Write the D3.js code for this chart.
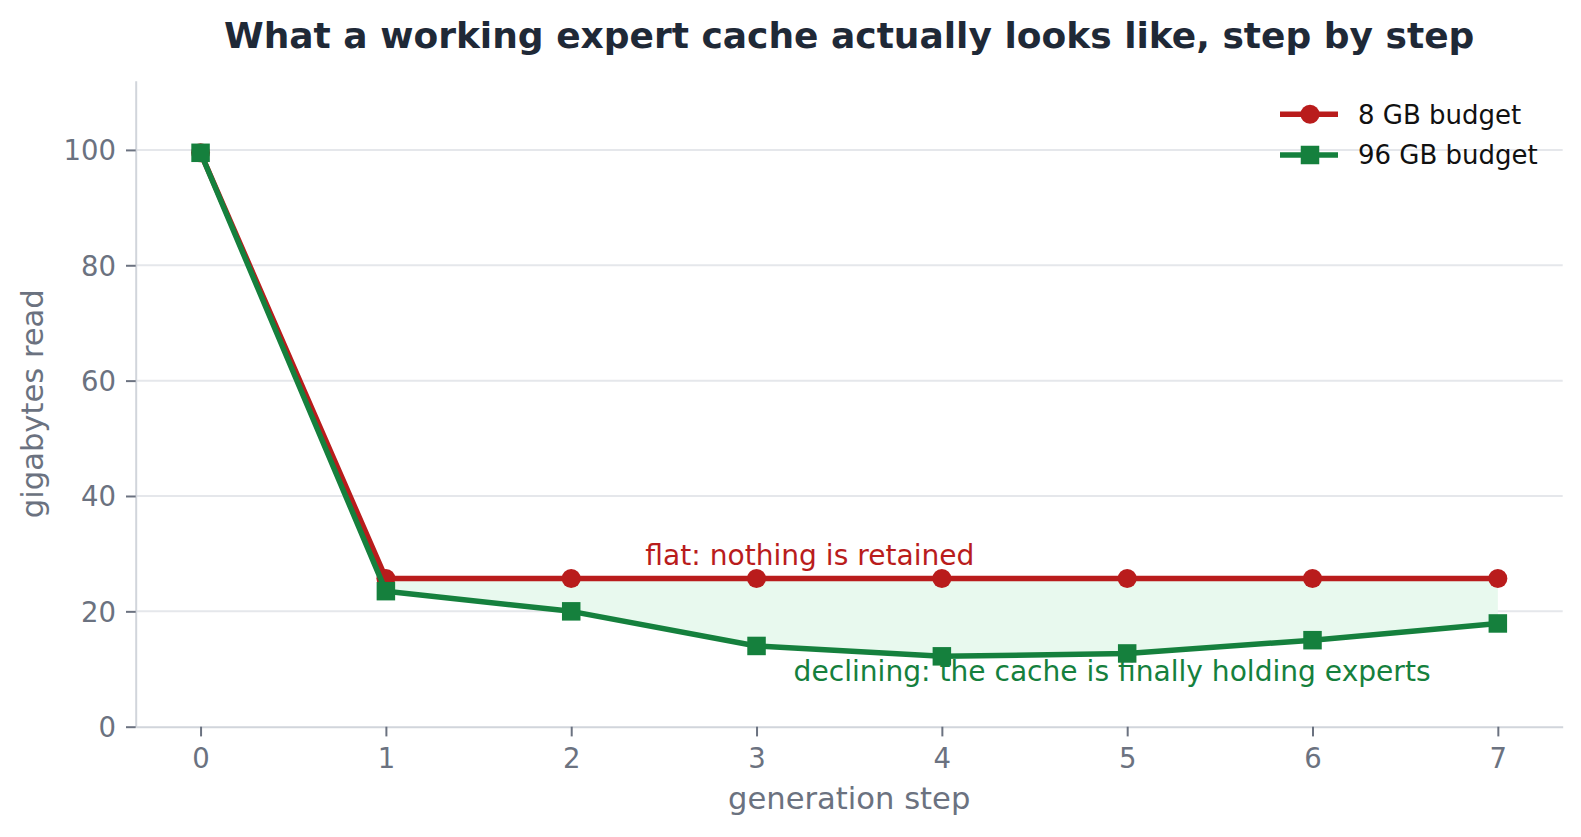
<!DOCTYPE html>
<html>
<head>
<meta charset="utf-8">
<script src="https://cdn.jsdelivr.net/npm/d3@7"></script>
<style>
  body { margin: 0; background: #fff; }
  text { font-family: "DejaVu Sans", sans-serif; }
</style>
</head>
<body>
<div id="chart"></div>
<script>
// values
const steps = [0, 1, 2, 3, 4, 5, 6, 7]
const budget8 = [99.5, 25.7, 25.7, 25.7, 25.7, 25.7, 25.7, 25.7]
const budget96 = [99.5, 23.5, 20.0, 14.0, 12.2, 12.7, 15.0, 17.9]
const yTicks = [0, 20, 40, 60, 80, 100]

const red = "#b91c1c"
const green = "#15803d"

const width = 1581
const height = 837
const margin = { top: 80.7, right: 18.3, bottom: 110.3, left: 135.7 }

const svg = d3.select("#chart").append("svg")
  .attr("width", width)
  .attr("height", height)

const x = d3.scaleLinear()
  .domain([-0.35, 7.35])
  .range([margin.left, width - margin.right])

const y = d3.scaleLinear()
  .domain([0, 112])
  .range([height - margin.bottom, margin.top])

// grid
svg.append("g")
  .selectAll("line")
  .data(yTicks.filter(d => d > 0))
  .join("line")
    .attr("x1", margin.left)
    .attr("x2", width - margin.right)
    .attr("y1", d => y(d))
    .attr("y2", d => y(d))
    .attr("stroke", "#e5e7eb")
    .attr("stroke-width", 2)

// fill between the two budgets
const gap = steps.map((s, i) => ({ s, hi: budget8[i], lo: budget96[i] })).filter(d => d.s >= 1)
svg.append("path")
  .datum(gap)
  .attr("fill", "#e8f9ee")
  .attr("d", d3.area()
    .x(d => x(d.s))
    .y0(d => y(d.lo))
    .y1(d => y(d.hi)))

// axes
const xAxis = svg.append("g")
  .attr("transform", `translate(0,${height - margin.bottom})`)
  .call(d3.axisBottom(x).tickValues(steps).tickSize(9.7).tickSizeOuter(0).tickPadding(10))
const yAxis = svg.append("g")
  .attr("transform", `translate(${margin.left},0)`)
  .call(d3.axisLeft(y).tickValues(yTicks).tickSize(9.7).tickSizeOuter(0).tickPadding(10))

for (const ax of [xAxis, yAxis]) {
  ax.select(".domain").attr("stroke", "#d1d5db").attr("stroke-width", 2)
  ax.selectAll(".tick line").attr("stroke", "#6b7280").attr("stroke-width", 2)
  ax.selectAll(".tick text")
    .attr("fill", "#6b7280")
    .style("font-size", "27.5px")
    .style("font-family", "DejaVu Sans")
}
xAxis.selectAll(".tick text").attr("dy", null).attr("y", 41)
yAxis.selectAll(".tick text").attr("dy", "0.36em")

// series
const line = d3.line().x((d, i) => x(steps[i])).y(d => y(d))

svg.append("path")
  .datum(budget8)
  .attr("fill", "none")
  .attr("stroke", red)
  .attr("stroke-width", 5.5)
  .attr("stroke-linejoin", "round")
  .attr("d", line)

svg.append("g")
  .selectAll("circle")
  .data(budget8)
  .join("circle")
    .attr("cx", (d, i) => x(steps[i]))
    .attr("cy", d => y(d))
    .attr("r", 9.5)
    .attr("fill", red)

svg.append("path")
  .datum(budget96)
  .attr("fill", "none")
  .attr("stroke", green)
  .attr("stroke-width", 5.5)
  .attr("stroke-linejoin", "round")
  .attr("d", line)

const sq = 18.5
svg.append("g")
  .selectAll("rect")
  .data(budget96)
  .join("rect")
    .attr("x", (d, i) => x(steps[i]) - sq / 2)
    .attr("y", d => y(d) - sq / 2)
    .attr("width", sq)
    .attr("height", sq)
    .attr("fill", green)

// annotations
svg.append("text")
  .attr("x", x(2.4))
  .attr("y", y(28))
  .attr("fill", red)
  .style("font-size", "28.1px")
  .text("flat: nothing is retained")

svg.append("text")
  .attr("x", x(3.2))
  .attr("y", y(8))
  .attr("fill", green)
  .style("font-size", "28.1px")
  .text("declining: the cache is finally holding experts")

// title and axis labels
const cx = (margin.left + width - margin.right) / 2

svg.append("text")
  .attr("x", cx)
  .attr("y", 47.7)
  .attr("text-anchor", "middle")
  .attr("fill", "#1f2937")
  .style("font-size", "36px")
  .style("font-weight", "bold")
  .text("What a working expert cache actually looks like, step by step")

svg.append("text")
  .attr("x", cx)
  .attr("y", 809)
  .attr("text-anchor", "middle")
  .attr("fill", "#6b7280")
  .style("font-size", "30.6px")
  .text("generation step")

svg.append("text")
  .attr("transform", `translate(43,${(margin.top + height - margin.bottom) / 2}) rotate(-90)`)
  .attr("text-anchor", "middle")
  .attr("fill", "#6b7280")
  .style("font-size", "30.6px")
  .text("gigabytes read")

// legend
const legend = [
  { label: "8 GB budget", color: red, shape: "circle" },
  { label: "96 GB budget", color: green, shape: "square" },
]
const lg = svg.append("g").attr("transform", "translate(1280,114.3)")
legend.forEach((d, i) => {
  const g = lg.append("g").attr("transform", `translate(0,${i * 40.7})`)
  g.append("line").attr("x1", 0).attr("x2", 58)
    .attr("stroke", d.color).attr("stroke-width", 5.5)
  if (d.shape === "circle") {
    g.append("circle").attr("cx", 30).attr("r", 9.5).attr("fill", d.color)
  } else {
    g.append("rect").attr("x", 30 - sq / 2).attr("y", -sq / 2)
      .attr("width", sq).attr("height", sq).attr("fill", d.color)
  }
  g.append("text").attr("x", 78).attr("y", 0).attr("dy", "0.36em")
    .attr("fill", "#111")
    .style("font-size", "26px")
    .text(d.label)
})
</script>
</body>
</html>
